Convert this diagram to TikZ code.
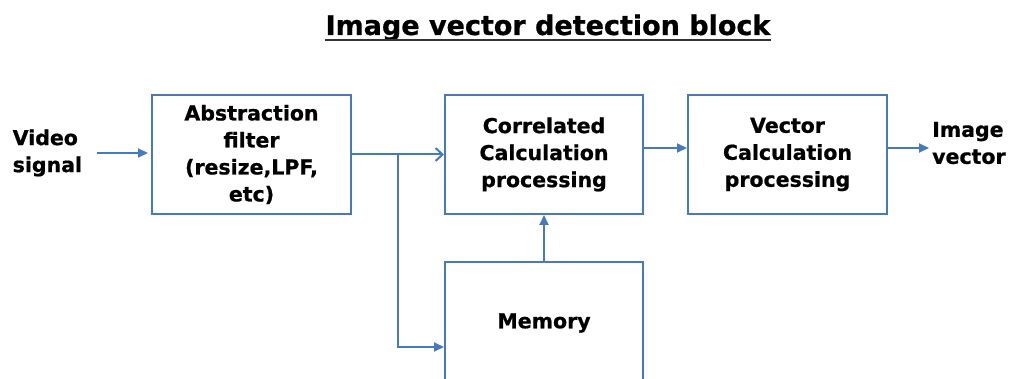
\documentclass[tikz,border=0pt]{standalone}
\usepackage{fontspec}
\setmainfont{DejaVu Sans}[BoldFeatures={FakeBold=0.8}]
\usetikzlibrary{arrows.meta}
\definecolor{lineblue}{RGB}{70,122,188}

\begin{document}
\begin{tikzpicture}[x=1pt,y=-1pt,
	block/.style={draw=lineblue,line width=2pt,align=center,inner sep=0pt,
		font=\fontsize{20.5}{27}\selectfont\bfseries},
	sigtext/.style={align=left,inner sep=0pt,font=\fontsize{20.5}{27}\selectfont\bfseries},
	flow/.style={draw=lineblue,line width=2pt,-{Triangle[length=10pt,width=9pt]}},
	openflow/.style={draw=lineblue,line width=2pt,-{Straight Barb[length=7pt,width=13pt]}}]
	\useasboundingbox (0,0) rectangle (1010,379);
	\clip (0,0) rectangle (1010,379);

	% title
	\node[inner sep=0pt,anchor=base,font=\fontsize{27}{32}\selectfont\bfseries] (title) at (548,35) {Image vector detection block};
	\draw[black!80,line width=1.5pt] ([yshift=-5pt]title.base west) -- ([yshift=-5pt]title.base east);

	% blocks
	\node[block,minimum width=199pt,minimum height=119pt] (filter) at (251.5,154.5) {Abstraction\\filter\\(resize,LPF,\\etc)};
	\node[block,minimum width=198pt,minimum height=119pt] (corr) at (544,154.5) {Correlated\\Calculation\\processing};
	\node[block,minimum width=199pt,minimum height=119pt] (vec) at (787.5,154.5) {Vector\\Calculation\\processing};
	\node[block,minimum width=198pt,minimum height=122pt] (mem) at (544,323) {Memory};

	% input and output
	\node[sigtext,anchor=west] (video) at (12.5,153) {Video\\signal};
	\node[sigtext,anchor=west] (image) at (932,143) {Image\\vector};
	\coordinate (split) at (398,154.5);
	\coordinate (memin) at ([yshift=-24pt]mem.west);
	\coordinate (imgin) at (929,148);

	% connectors
	\draw[flow,shorten <=15pt,shorten >=3pt] (video.east) -- (video.east -| filter.west);
	\draw[openflow] (filter.east) -- (corr.west);
	\draw[flow] (split) |- (memin);
	\draw[flow] (mem.north) -- (corr.south);
	\draw[flow] ([yshift=6.5pt]corr.east) -- ([yshift=6.5pt]vec.west);
	\draw[flow] ([yshift=6.5pt]vec.east) -- (imgin);
\end{tikzpicture}
\end{document}
